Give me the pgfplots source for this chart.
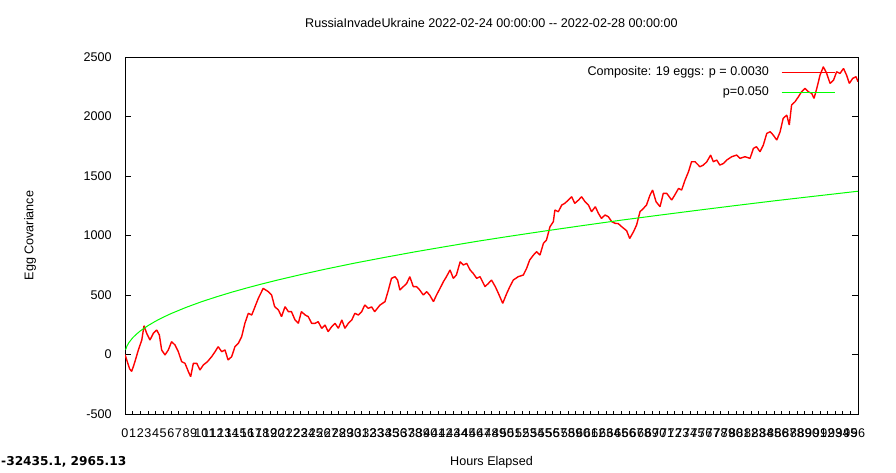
\documentclass[border=0pt]{standalone}
\usepackage{fontspec}
\setmainfont{Liberation Sans}
\newfontfamily\coordfont{DejaVu Sans}
\usepackage{pgfplots}
\pgfplotsset{compat=1.18}
\definecolor{gpred}{RGB}{255,0,0}
\definecolor{gpgreen}{RGB}{0,255,0}

\pgfplotstableread{
h v
0 0
0.3 -60
0.6 -120
0.87 -142
1.1 -100
1.3 -60
1.75 38
2.2 122
2.49 242
2.84 178
3.27 122
3.71 178
4.15 206
4.5 164
4.8 38
5.24 -4
5.67 38
6.1 108
6.55 80
6.98 24
7.42 -60
7.86 -74
8.3 -144
8.6 -186
8.95 -74
9.4 -74
9.82 -130
10.26 -88
10.8 -60
11.35 -18
11.8 24
12.2 66
12.66 24
13.1 38
13.5 -46
13.97 -18
14.4 66
14.84 94
15.28 150
15.7 262
16.15 346
16.6 332
17.03 402
17.46 472
18.1 556
18.77 528
19.2 500
19.6 402
20.1 374
20.5 318
20.96 402
21.4 360
21.8 360
22.27 290
22.7 262
23.1 360
23.6 332
24.0 318
24.45 262
24.9 262
25.3 276
25.76 220
26.2 248
26.6 192
27.07 234
27.5 262
27.94 220
28.4 290
28.8 220
29.25 262
29.7 290
30.1 346
30.56 332
31 360
31.4 416
31.87 388
32.3 400
32.7 360
33.4 416
34.05 444
34.5 542
34.9 640
35.36 654
35.7 626
36.0 542
36.45 570
36.9 598
37.3 654
37.76 570
38.2 570
38.6 542
39.07 500
39.5 528
39.9 500
40.4 444
40.8 500
41.26 556
41.7 612
42.1 654
42.57 710
43 640
43.4 668
43.9 780
44.3 752
44.75 766
45.2 710
45.6 682
46.06 640
46.5 654
47.15 570
47.6 598
48.0 626
48.5 570
48.9 514
49.47 430
50 514
50.4 570
50.86 626
51.5 654
52.17 668
52.6 724
53.0 794
53.5 836
53.9 864
54.35 836
54.8 934
55.2 962
55.66 1074
56.1 1116
56.3 1214
56.75 1200
57.2 1256
57.6 1270
58.06 1298
58.5 1326
58.9 1270
59.4 1298
59.8 1326
60.25 1284
60.7 1256
61.1 1200
61.6 1242
62.0 1186
62.4 1144
62.87 1172
63.3 1158
63.75 1116
64.2 1102
64.6 1100
65.05 1074
65.7 1040
66.1 975
66.6 1032
67.0 1088
67.45 1200
67.9 1228
68.3 1256
68.76 1340
69.1 1382
69.55 1284
70.07 1242
70.5 1354
70.95 1354
71.6 1298
72.0 1340
72.5 1396
72.9 1382
73.35 1466
73.8 1536
74.2 1620
74.65 1620
75.3 1578
75.75 1592
76.2 1620
76.7 1676
77.05 1620
77.5 1634
77.9 1592
78.4 1606
78.8 1634
79.46 1662
80.1 1676
80.55 1648
81.2 1662
81.86 1648
82.3 1732
82.7 1746
83.17 1704
83.6 1760
84.05 1858
84.5 1872
84.9 1844
85.36 1802
85.8 1872
86.2 1984
86.67 2012
87.0 1928
87.3 2096
87.75 2124
88.2 2166
88.6 2208
89.06 2236
89.5 2208
89.94 2194
90.24 2152
90.6 2236
91.03 2348
91.46 2418
91.9 2362
92.34 2278
92.8 2306
93.2 2376
93.65 2362
94.1 2404
94.5 2348
94.87 2278
95.3 2320
95.74 2334
96 2292
}\composite

\pgfplotstableread{
h v
0.08 40
0.25 70
0.5 99
1 140
1.5 171
2 198
3 242
4 280
5 313
6 343
8 396
10 443
12 485
14 524
16 560
18 594
20 626
23 671
26 714
30 767
34 816
38 863
42 907
46 950
50 990
55 1038
60 1084
65 1129
70 1171
75 1212
80 1252
85 1291
90 1328
96 1372
}\pfive

\begin{document}
\fontsize{12.6}{15}\selectfont
\begin{tikzpicture}
\path[use as bounding box] (0,0) rectangle (896pt,472pt);
\begin{axis}[
    at={(125pt,58pt)}, anchor=south west,
    width=733pt, height=357pt, scale only axis,
    xmin=0, xmax=96, ymin=-500, ymax=2500,
    xtick={0,1,...,96},
    ytick={-500,0,...,2500},
    tick align=inside,
    xtick pos=left,
    ytick pos=both,
    xtick style={/pgfplots/major tick length=3pt, black, line width=0.6pt},
    ytick style={/pgfplots/major tick length=6pt, black, line width=0.6pt},
    axis line style={line width=0.8pt},
    /pgf/number format/1000 sep={},
    /pgf/number format/assume math mode=true,
    xticklabel style={yshift=-10pt},
    yticklabel style={xshift=-9pt},
    title={RussiaInvadeUkraine 2022-02-24 00:00:00 -{}- 2022-02-28 00:00:00},
    title style={at={(0.5,1.0798)}, anchor=center},
    xlabel={Hours Elapsed},
    xlabel style={at={(0.5,-0.1345)}, anchor=center},
    ylabel={Egg Covariance},
    ylabel style={at={(-0.1296,0.5)}, anchor=center},
    legend plot pos=right,
    legend cell align=right,
    legend style={draw=none, fill=none, at={(0.969,0.979)}, anchor=north east,
        inner sep=0pt, row sep=5pt, font=\fontsize{12.6}{15}\selectfont},
    legend image code/.code={\path (0pt,0pt); \draw[#1, line width=1pt] (10pt,0pt) -- (63pt,0pt);},
]
\addplot[gpred, line width=1.4pt, line join=bevel] table[x=h, y=v] {\composite};
\addlegendentry{Composite: 19 eggs: p = 0.0030}
\addplot[gpgreen, line width=1pt] table[x=h, y=v] {\pfive};
\addlegendentry{p=0.050}
\end{axis}
\node[anchor=west, inner sep=1pt, font=\coordfont\bfseries\fontsize{12.2}{14}\selectfont] at (0pt,10pt) {-32435.1, 2965.13};
\end{tikzpicture}
\end{document}
